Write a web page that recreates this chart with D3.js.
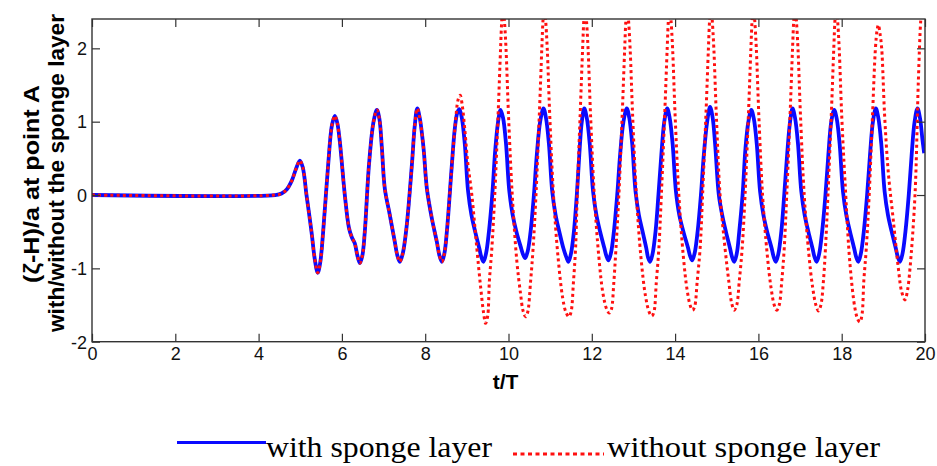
<!DOCTYPE html>
<html>
<head>
<meta charset="utf-8">
<script src="https://cdn.jsdelivr.net/npm/d3@7"></script>
<style>
  html, body { margin: 0; padding: 0; background: #fff; }
  svg { display: block; }
  .tick text { font-family: "Liberation Sans", Arial, sans-serif; }
</style>
</head>
<body>
<svg id="chart" width="937" height="466"></svg>
<script>
// Free-surface elevation at point A, (t/T, (ζ-H)/a)
// Shared onset of the wave train (both runs coincide here)
const onset = [
  [0, 0], [4.4, 0], [4.55, 0.02], [4.68, 0.08], [4.8, 0.2], [4.9, 0.36], [4.99, 0.47],
  [5.06, 0.38], [5.15, 0.0], [5.27, -0.5], [5.35, -0.88], [5.42, -1.06], [5.48, -0.92],
  [5.55, -0.5], [5.67, 0.41], [5.76, 0.95], [5.83, 1.08], [5.89, 0.98], [5.95, 0.73],
  [6.07, 0.0], [6.17, -0.45], [6.24, -0.58], [6.31, -0.66], [6.37, -0.82], [6.43, -0.93],
  [6.49, -0.83], [6.55, -0.5], [6.65, 0.41], [6.76, 1.0], [6.84, 1.16], [6.9, 1.04],
  [6.96, 0.64], [7.03, 0.09], [7.15, -0.27], [7.27, -0.64], [7.33, -0.82], [7.39, -0.91],
  [7.46, -0.8], [7.55, -0.45], [7.68, 0.41], [7.75, 0.95], [7.81, 1.18], [7.87, 1.05],
  [7.96, 0.64], [8.04, 0.09], [8.16, -0.32], [8.28, -0.64], [8.34, -0.82], [8.40, -0.91],
  [8.46, -0.8], [8.52, -0.5], [8.64, 0.41]
];

// With sponge layer, after the onset
const withSpongeTail = [
  [8.71, 0.9], [8.77, 1.12], [8.82, 1.17], [8.88, 1.05], [8.95, 0.7], [9.03, 0.05], [9.11, -0.27], [9.20, -0.5], [9.30, -0.73], [9.35, -0.85], [9.40, -0.91],
  [9.46, -0.8], [9.53, -0.5], [9.61, 0], [9.68, 0.6], [9.75, 1.0], [9.81, 1.16], [9.87, 1.05], [9.94, 0.7], [10.02, 0.05], [10.10, -0.27], [10.19, -0.5], [10.29, -0.7], [10.35, -0.81], [10.40, -0.86],
  [10.46, -0.77], [10.53, -0.5], [10.61, 0], [10.68, 0.55], [10.76, 1.0], [10.84, 1.18], [10.90, 1.05], [10.97, 0.7], [11.05, 0.05], [11.13, -0.27], [11.22, -0.5], [11.32, -0.73], [11.39, -0.85], [11.44, -0.91],
  [11.50, -0.8], [11.57, -0.5], [11.64, 0], [11.70, 0.55], [11.76, 1.0], [11.82, 1.18], [11.88, 1.05], [11.95, 0.7], [12.03, 0.05], [12.11, -0.27], [12.20, -0.5], [12.30, -0.72], [12.35, -0.83], [12.40, -0.89],
  [12.46, -0.79], [12.53, -0.5], [12.61, 0], [12.68, 0.55], [12.76, 1.0], [12.84, 1.18], [12.90, 1.05], [12.97, 0.7], [13.05, 0.05], [13.13, -0.27], [13.22, -0.5], [13.31, -0.73], [13.35, -0.85], [13.40, -0.91],
  [13.46, -0.8], [13.53, -0.5], [13.60, 0], [13.67, 0.55], [13.74, 1.0], [13.81, 1.18], [13.87, 1.05], [13.94, 0.7], [14.02, 0.05], [14.10, -0.27], [14.20, -0.5], [14.31, -0.72], [14.36, -0.83], [14.41, -0.89],
  [14.47, -0.79], [14.54, -0.5], [14.62, 0], [14.69, 0.55], [14.77, 1.0], [14.84, 1.20], [14.90, 1.06], [14.96, 0.7], [15.05, 0.0], [15.13, -0.27], [15.22, -0.5], [15.32, -0.73], [15.37, -0.85], [15.42, -0.91],
  [15.48, -0.8], [15.54, -0.5], [15.62, 0], [15.69, 0.64], [15.76, 1.0], [15.83, 1.16], [15.89, 1.04], [15.96, 0.7], [16.04, 0.05], [16.12, -0.27], [16.21, -0.5], [16.32, -0.73], [16.37, -0.85], [16.42, -0.91],
  [16.48, -0.8], [16.55, -0.5], [16.62, 0], [16.69, 0.55], [16.76, 1.0], [16.82, 1.18], [16.88, 1.05], [16.95, 0.7], [17.03, 0.05], [17.11, -0.27], [17.20, -0.5], [17.30, -0.73], [17.35, -0.85], [17.40, -0.91],
  [17.46, -0.8], [17.53, -0.5], [17.61, 0], [17.68, 0.55], [17.75, 1.0], [17.82, 1.16], [17.88, 1.04], [17.95, 0.7], [18.03, 0.05], [18.11, -0.27], [18.20, -0.5], [18.30, -0.73], [18.35, -0.85], [18.40, -0.91],
  [18.46, -0.8], [18.53, -0.5], [18.61, 0], [18.68, 0.55], [18.75, 1.0], [18.82, 1.18], [18.88, 1.05], [18.95, 0.7], [19.03, 0.05], [19.11, -0.27], [19.20, -0.5], [19.30, -0.73], [19.35, -0.85], [19.40, -0.91],
  [19.46, -0.8], [19.53, -0.5], [19.61, 0], [19.68, 0.55], [19.75, 1.0], [19.82, 1.18], [19.88, 1.05], [19.94, 0.75], [19.98, 0.57]
];

// Without sponge layer, after the onset (crests above 2.4 leave the axes)
const withoutSpongeTail = [
  [8.72, 0.95], [8.79, 1.3], [8.84, 1.36], [8.89, 1.22], [8.95, 0.9], [9.02, 0.45], [9.12, 0.0], [9.24, -0.73], [9.33, -1.25], [9.40, -1.6], [9.45, -1.75], [9.50, -1.65],
  [9.54, -1.18], [9.60, -0.73], [9.67, 0], [9.75, 1.09], [9.81, 2.0], [9.84, 2.4], [9.87, 2.6], [9.90, 2.4], [9.94, 2.0], [10.0, 1.09], [10.09, 0], [10.20, -0.9], [10.29, -1.35], [10.35, -1.58], [10.41, -1.66], [10.46, -1.6],
  [10.53, -1.18], [10.59, -0.73], [10.66, 0], [10.74, 1.09], [10.80, 2.0], [10.83, 2.4], [10.86, 2.6], [10.89, 2.4], [10.93, 2.0], [10.99, 1.09], [11.08, 0], [11.19, -0.85], [11.30, -1.4], [11.38, -1.6], [11.45, -1.66], [11.50, -1.6],
  [11.56, -1.18], [11.61, -0.73], [11.65, 0], [11.72, 1.09], [11.78, 2.0], [11.81, 2.4], [11.84, 2.6], [11.87, 2.4], [11.91, 2.0], [11.97, 1.09], [12.06, 0], [12.17, -0.85], [12.27, -1.35], [12.36, -1.56], [12.42, -1.61], [12.47, -1.56],
  [12.53, -1.18], [12.58, -0.73], [12.65, 0], [12.73, 1.09], [12.79, 2.0], [12.82, 2.4], [12.85, 2.6], [12.88, 2.4], [12.92, 2.0], [12.98, 1.09], [13.07, 0], [13.18, -0.85], [13.29, -1.38], [13.38, -1.6], [13.44, -1.65], [13.49, -1.6],
  [13.55, -1.18], [13.61, -0.73], [13.67, 0], [13.75, 1.09], [13.81, 2.0], [13.84, 2.4], [13.87, 2.6], [13.90, 2.4], [13.94, 2.0], [14.0, 1.09], [14.09, 0], [14.20, -0.85], [14.29, -1.3], [14.37, -1.52], [14.42, -1.57], [14.47, -1.52],
  [14.53, -1.18], [14.60, -0.73], [14.66, 0], [14.74, 1.09], [14.80, 2.0], [14.83, 2.4], [14.86, 2.6], [14.89, 2.4], [14.93, 2.0], [14.99, 1.09], [15.08, 0], [15.20, -0.73], [15.29, -1.18], [15.36, -1.48], [15.42, -1.57], [15.48, -1.5],
  [15.54, -1.18], [15.61, -0.73], [15.68, 0], [15.76, 1.09], [15.82, 2.0], [15.85, 2.4], [15.88, 2.6], [15.91, 2.4], [15.95, 2.0], [16.01, 1.09], [16.10, 0], [16.21, -0.8], [16.30, -1.25], [16.38, -1.5], [16.44, -1.57], [16.50, -1.5],
  [16.56, -1.18], [16.62, -0.73], [16.68, 0], [16.76, 1.09], [16.82, 2.0], [16.85, 2.4], [16.88, 2.6], [16.91, 2.4], [16.95, 2.0], [17.01, 1.09], [17.10, 0], [17.21, -0.8], [17.30, -1.25], [17.38, -1.5], [17.44, -1.58], [17.50, -1.5],
  [17.56, -1.18], [17.61, -0.73], [17.67, 0], [17.75, 1.09], [17.81, 2.0], [17.84, 2.4], [17.87, 2.6], [17.90, 2.4], [17.94, 2.0], [18.0, 1.09], [18.08, 0.18], [18.2, -0.95], [18.32, -1.55], [18.39, -1.7], [18.44, -1.73], [18.49, -1.62],
  [18.53, -1.18], [18.59, -0.73], [18.66, 0], [18.74, 1.09], [18.81, 2.0], [18.85, 2.25], [18.88, 2.32], [18.92, 2.2], [18.96, 2.0], [19.03, 1.09], [19.12, 0.3], [19.24, -0.35], [19.36, -1.0], [19.44, -1.32], [19.52, -1.43], [19.58, -1.3],
  [19.64, -1.0], [19.76, 0], [19.84, 1.55], [19.90, 2.4], [19.95, 2.7], [20.0, 2.8]
];

const xTicks = [0, 2, 4, 6, 8, 10, 12, 14, 16, 18, 20];
const yTicks = [-2, -1, 0, 1, 2];
const yTitleLines = ["(\u03B6-H)/a at point A", "with/without the sponge layer"];
const xTitle = "t/T";
const legendLabels = ["with sponge layer", "without sponge layer"];

const withSponge = onset.concat(withSpongeTail);
const withoutSponge = onset.concat(withoutSpongeTail);

const svg = d3.select("#chart");
const plot = { left: 92, right: 925, top: 19, bottom: 341.7 };

const x = d3.scaleLinear().domain([0, 20]).range([plot.left, plot.right]);
const y = d3.scaleLinear().domain([-2, 2.4]).range([plot.bottom, plot.top]);

svg.append("defs").append("clipPath").attr("id", "plotClip")
  .append("rect")
  .attr("x", plot.left).attr("y", plot.top)
  .attr("width", plot.right - plot.left).attr("height", plot.bottom - plot.top);

const line = d3.line()
  .x(d => x(d[0])).y(d => y(d[1]))
  .curve(d3.curveCatmullRom.alpha(0.5));

const g = svg.append("g").attr("clip-path", "url(#plotClip)");

g.append("path")
  .datum(withSponge)
  .attr("d", line)
  .attr("fill", "none")
  .attr("stroke", "#0a0aff")
  .attr("stroke-width", 3.8)
  .attr("stroke-linejoin", "round");

g.append("path")
  .datum(withoutSponge)
  .attr("d", line)
  .attr("fill", "none")
  .attr("stroke", "#ff1010")
  .attr("stroke-width", 3)
  .attr("stroke-dasharray", "3,3.2");

// Axes: ticks pointing inward on all four sides, MATLAB-style box
const axisColor = "#333";
const tickFont = "18px";

const xBottom = svg.append("g")
  .attr("transform", `translate(0,${plot.bottom})`)
  .call(d3.axisBottom(x).tickValues(xTicks).tickSizeInner(-8).tickSizeOuter(0).tickFormat(d3.format("d")));
const xTop = svg.append("g")
  .attr("transform", `translate(0,${plot.top})`)
  .call(d3.axisTop(x).tickValues(xTicks).tickSizeInner(-8).tickSizeOuter(0).tickFormat(""));
const yLeft = svg.append("g")
  .attr("transform", `translate(${plot.left},0)`)
  .call(d3.axisLeft(y).tickValues(yTicks).tickSizeInner(-8).tickSizeOuter(0).tickFormat(d => d < 0 ? "-" + Math.abs(d) : String(d)));
const yRight = svg.append("g")
  .attr("transform", `translate(${plot.right},0)`)
  .call(d3.axisRight(y).tickValues(yTicks).tickSizeInner(-8).tickSizeOuter(0).tickFormat(""));

[xBottom, xTop, yLeft, yRight].forEach(a => {
  a.select(".domain").remove();
  a.selectAll(".tick line").attr("stroke", axisColor).attr("stroke-width", 1.2);
  a.selectAll(".tick text").attr("fill", "#111").style("font-size", tickFont);
});
// Tick labels sit outside the box
xBottom.selectAll(".tick text").attr("y", 6).attr("dy", "0.71em").attr("text-anchor", "middle");
yLeft.selectAll(".tick text").attr("x", -5).attr("dy", "0.35em").attr("text-anchor", "end");

svg.append("rect")
  .attr("x", plot.left).attr("y", plot.top)
  .attr("width", plot.right - plot.left).attr("height", plot.bottom - plot.top)
  .attr("fill", "none").attr("stroke", axisColor).attr("stroke-width", 1.4);

// Axis titles
svg.append("text")
  .attr("x", (plot.left + plot.right) / 2 - 3).attr("y", 389)
  .attr("text-anchor", "middle")
  .style("font-family", "'Liberation Sans', Arial, sans-serif")
  .style("font-weight", "bold").style("font-size", "21px")
  .text(xTitle);

const yTitlePos = [{ x: 39, mid: 184, len: 198 }, { x: 64, mid: 173, len: 318 }];
yTitleLines.forEach((t, i) => {
  svg.append("text")
    .attr("transform", `translate(${yTitlePos[i].x},${yTitlePos[i].mid}) rotate(-90)`)
    .attr("text-anchor", "middle")
    .attr("textLength", yTitlePos[i].len).attr("lengthAdjust", "spacingAndGlyphs")
    .style("font-family", "'Liberation Sans', Arial, sans-serif")
    .style("font-weight", "bold").style("font-size", "22px")
    .text(t);
});

// Legend
const lg = svg.append("g");
lg.append("line")
  .attr("x1", 177).attr("x2", 266).attr("y1", 442.5).attr("y2", 442.5)
  .attr("stroke", "#0a0aff").attr("stroke-width", 3.2);
lg.append("text")
  .attr("x", 266).attr("y", 456.5)
  .attr("textLength", 226).attr("lengthAdjust", "spacingAndGlyphs")
  .style("font-family", "'Liberation Serif', 'Times New Roman', serif")
  .style("font-size", "29px").attr("fill", "#000")
  .text(legendLabels[0]);
lg.append("line")
  .attr("x1", 513).attr("x2", 604).attr("y1", 454).attr("y2", 454)
  .attr("stroke", "#ff1010").attr("stroke-width", 3).attr("stroke-dasharray", "4,3.5");
lg.append("text")
  .attr("x", 607).attr("y", 456.5)
  .attr("textLength", 273).attr("lengthAdjust", "spacingAndGlyphs")
  .style("font-family", "'Liberation Serif', 'Times New Roman', serif")
  .style("font-size", "29px").attr("fill", "#000")
  .text(legendLabels[1]);
</script>
</body>
</html>
